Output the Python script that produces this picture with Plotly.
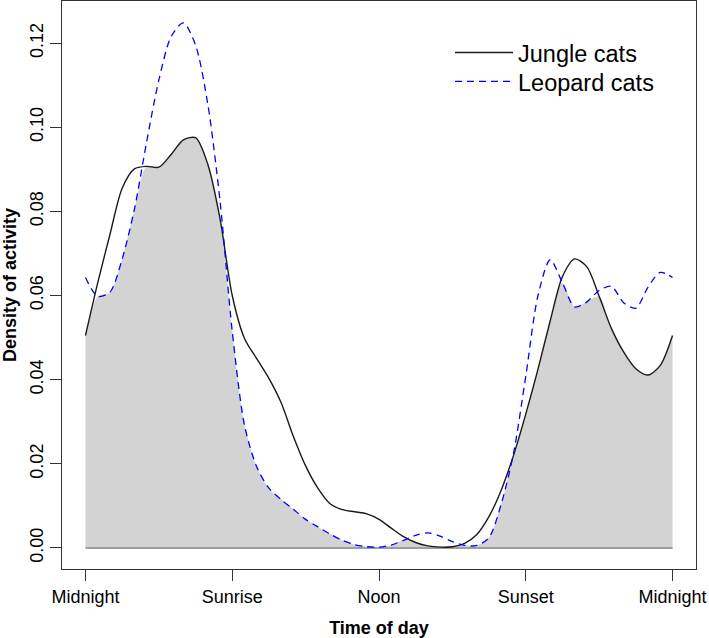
import plotly.graph_objects as go
import numpy as np

# Time of day (hours from midnight)
hours = [0.0, 0.5, 1.0, 1.5, 2.0, 2.5, 3.0, 3.5, 4.0, 4.5, 5.0, 5.5, 6.0, 6.5, 7.0, 7.5,
         8.0, 8.5, 9.0, 9.5, 10.0, 10.5, 11.0, 11.5, 12.0, 12.5, 13.0, 13.5, 14.0, 14.5,
         15.0, 15.5, 16.0, 16.5, 17.0, 17.5, 18.0, 18.5, 19.0, 19.5, 20.0, 20.5, 21.0,
         21.5, 22.0, 22.5, 23.0, 23.5, 24.0]

jungle_cats = [0.0505, 0.0630, 0.0745, 0.0855, 0.0901, 0.0907, 0.0905, 0.0935, 0.0970,
               0.0975, 0.0912, 0.0783, 0.0600, 0.0498, 0.0450, 0.0403, 0.0345, 0.0265,
               0.0195, 0.0142, 0.0105, 0.0091, 0.0086, 0.0081, 0.0068, 0.0047, 0.0027,
               0.0013, 0.0005, 0.0002, 0.0003, 0.0011, 0.0032, 0.0075, 0.0138, 0.0220,
               0.0318, 0.0425, 0.0540, 0.0645, 0.0687, 0.0668, 0.0598, 0.0522, 0.0466,
               0.0426, 0.0411, 0.0434, 0.0505]

leopard_cats = [0.0643, 0.0598, 0.0608, 0.0687, 0.0805, 0.0965, 0.1112, 0.1215, 0.1248,
                0.1195, 0.1055, 0.0825, 0.0515, 0.0292, 0.0193, 0.0142, 0.0115, 0.0092,
                0.0068, 0.0050, 0.0033, 0.0018, 0.0008, 0.0003, 0.0002, 0.0007, 0.0018,
                0.0030, 0.0036, 0.0028, 0.0015, 0.0006, 0.0006, 0.0025, 0.0105, 0.0225,
                0.0408, 0.0600, 0.0685, 0.0630, 0.0573, 0.0585, 0.0612, 0.0622, 0.0583,
                0.0570, 0.0620, 0.0655, 0.0643]

tick_hours = [0, 6, 12, 18, 24]
tick_labels = ["Midnight", "Sunrise", "Noon", "Sunset", "Midnight"]
y_ticks = [0.00, 0.02, 0.04, 0.06, 0.08, 0.10, 0.12]

overlap = np.minimum(jungle_cats, leopard_cats)

FONT = "Liberation Sans, Arial, Helvetica, sans-serif"

fig = go.Figure()
fig.add_trace(go.Scatter(
    x=hours, y=overlap, mode="lines", line=dict(width=0, shape="spline", smoothing=0.8),
    fill="tozeroy", fillcolor="#D3D3D3", showlegend=False, hoverinfo="skip"))
fig.add_trace(go.Scatter(
    x=[hours[0], hours[-1]], y=[0, 0], mode="lines",
    line=dict(color="#9E9E9E", width=2), showlegend=False, hoverinfo="skip"))
fig.add_trace(go.Scatter(
    x=hours, y=jungle_cats, mode="lines", name="Jungle cats", legend="legend",
    line=dict(color="#1a1a1a", width=1.4, shape="spline", smoothing=0.8)))
fig.add_trace(go.Scatter(
    x=hours, y=leopard_cats, mode="lines", name="Leopard cats", legend="legend2",
    line=dict(color="#0000FF", width=1.3, dash="7px,5px", shape="spline", smoothing=0.8)))

legend_style = dict(xanchor="left", yanchor="middle",
                    font=dict(size=23.5, family=FONT, color="black"),
                    bgcolor="rgba(0,0,0,0)", itemwidth=58)

fig.update_layout(
    width=709, height=638,
    margin=dict(l=62, r=13, t=1, b=69, autoexpand=False),
    paper_bgcolor="white", plot_bgcolor="white",
    font=dict(family=FONT, color="black", size=18),
    legend=dict(x=0.612, y=0.909, **legend_style),
    legend2=dict(x=0.612, y=0.858, **legend_style),
    xaxis=dict(range=[-0.96, 24.96], tickvals=tick_hours, ticktext=tick_labels,
               showgrid=False, zeroline=False, showline=True, mirror=True,
               linecolor="#333", linewidth=1, ticks="outside", ticklen=11,
               tickcolor="#333", tickfont=dict(size=18), automargin=False,
               title=dict(text="<b>Time of day</b>", font=dict(size=18))),
    yaxis=dict(range=[-0.005, 0.130], tickvals=y_ticks,
               ticktext=[f"{v:.2f}" for v in y_ticks], tickangle=-90,
               showgrid=False, zeroline=False, showline=True, mirror=True,
               linecolor="#333", linewidth=1, ticks="outside", ticklen=11,
               tickcolor="#333", tickfont=dict(size=18), automargin=False,
               title=dict(text="<b>Density of activity</b>", font=dict(size=18))),
)

fig.write_html("out.html", config={"displayModeBar": False},
               post_script="document.body.style.margin='0';document.body.style.overflow='hidden';")
